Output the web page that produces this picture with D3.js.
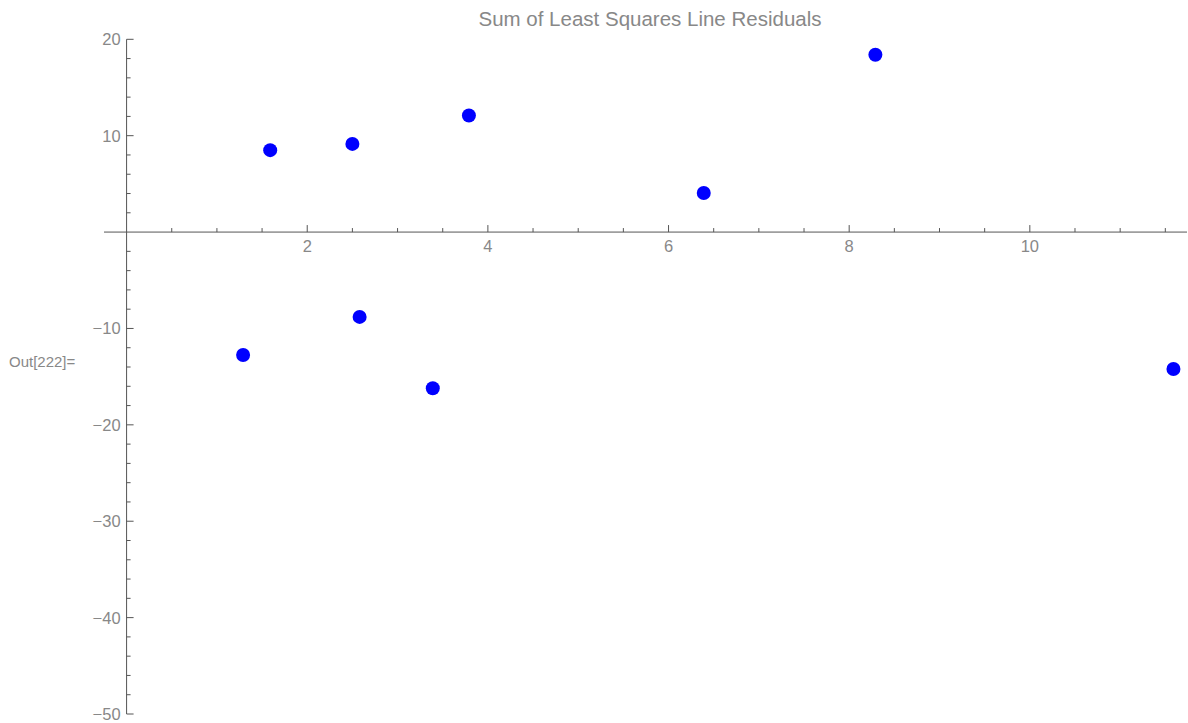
<!DOCTYPE html>
<html><head><meta charset="utf-8">
<script src="https://cdn.jsdelivr.net/npm/d3@7"></script>
<style>body{margin:0;background:#fff}svg{display:block}text{font-family:"Liberation Sans",Arial,sans-serif}</style>
</head><body>
<script>
const xValues = [1.59, 2.5, 3.79, 6.39, 8.29, 1.29, 2.58, 3.39, 11.59];
const yValues = [8.5, 9.15, 12.1, 4.05, 18.4, -12.75, -8.8, -16.2, -14.2];
const xMajorTicks = [2, 4, 6, 8, 10];
const yMajorTicks = [20, 10, -10, -20, -30, -40, -50];
const title = "Sum of Least Squares Line Residuals";
const outLabel = "Out[222]=";

const W = 1188, H = 723;
const svg = d3.select("body").append("svg").attr("width", W).attr("height", H);
const x = d3.scaleLinear().domain([-0.25, 11.74]).range([104, 1187]);
const y = d3.scaleLinear().domain([-50, 20]).range([714, 39.3]);
const axisColor = "#555";
const labelColor = "#888";
const fmt = d => d < 0 ? "\u2212" + Math.abs(d) : String(d);

// x axis
const gx = svg.append("g").attr("transform", `translate(0,${y(0)})`);
gx.append("line").attr("x1", x.range()[0]).attr("x2", x.range()[1]).attr("stroke", axisColor).attr("stroke-width", 1);
const xMinor = d3.range(0.5, 11.6, 0.5).filter(v => !xMajorTicks.includes(v));
gx.selectAll(".xm").data(xMinor).join("line").attr("x1", d => x(d)).attr("x2", d => x(d)).attr("y1", 0).attr("y2", -4).attr("stroke", axisColor);
gx.selectAll(".xM").data(xMajorTicks).join("line").attr("x1", d => x(d)).attr("x2", d => x(d)).attr("y1", 0).attr("y2", -7).attr("stroke", axisColor);
gx.selectAll(".xl").data(xMajorTicks).join("text").attr("x", d => x(d)).attr("y", 20).attr("text-anchor", "middle").attr("fill", labelColor).attr("font-size", 16.5).text(fmt);

// y axis
const gy = svg.append("g").attr("transform", `translate(${x(0)},0)`);
gy.append("line").attr("y1", y(-50)).attr("y2", y(20)).attr("stroke", axisColor).attr("stroke-width", 1);
const yMinor = d3.range(-48, 20, 2).filter(v => v % 10 !== 0);
gy.selectAll(".ym").data(yMinor).join("line").attr("y1", d => y(d)).attr("y2", d => y(d)).attr("x1", 0).attr("x2", 4).attr("stroke", axisColor);
gy.selectAll(".yM").data(yMajorTicks).join("line").attr("y1", d => y(d)).attr("y2", d => y(d)).attr("x1", 0).attr("x2", 7).attr("stroke", axisColor);
gy.selectAll(".yl").data(yMajorTicks).join("text").attr("x", -6).attr("y", d => y(d) + 6).attr("text-anchor", "end").attr("fill", labelColor).attr("font-size", 16.5).text(fmt);

// points
svg.selectAll("circle").data(xValues.map((v, i) => [v, yValues[i]])).join("circle")
  .attr("cx", d => x(d[0])).attr("cy", d => y(d[1])).attr("r", 7).attr("fill", "#0000ff");

// title
svg.append("text").attr("x", 650).attr("y", 26).attr("text-anchor", "middle").attr("fill", labelColor).attr("font-size", 20.5).text(title);
// Out label
svg.append("text").attr("x", 9).attr("y", 367).attr("fill", labelColor).attr("font-size", 15).text(outLabel);
</script>
</body></html>
